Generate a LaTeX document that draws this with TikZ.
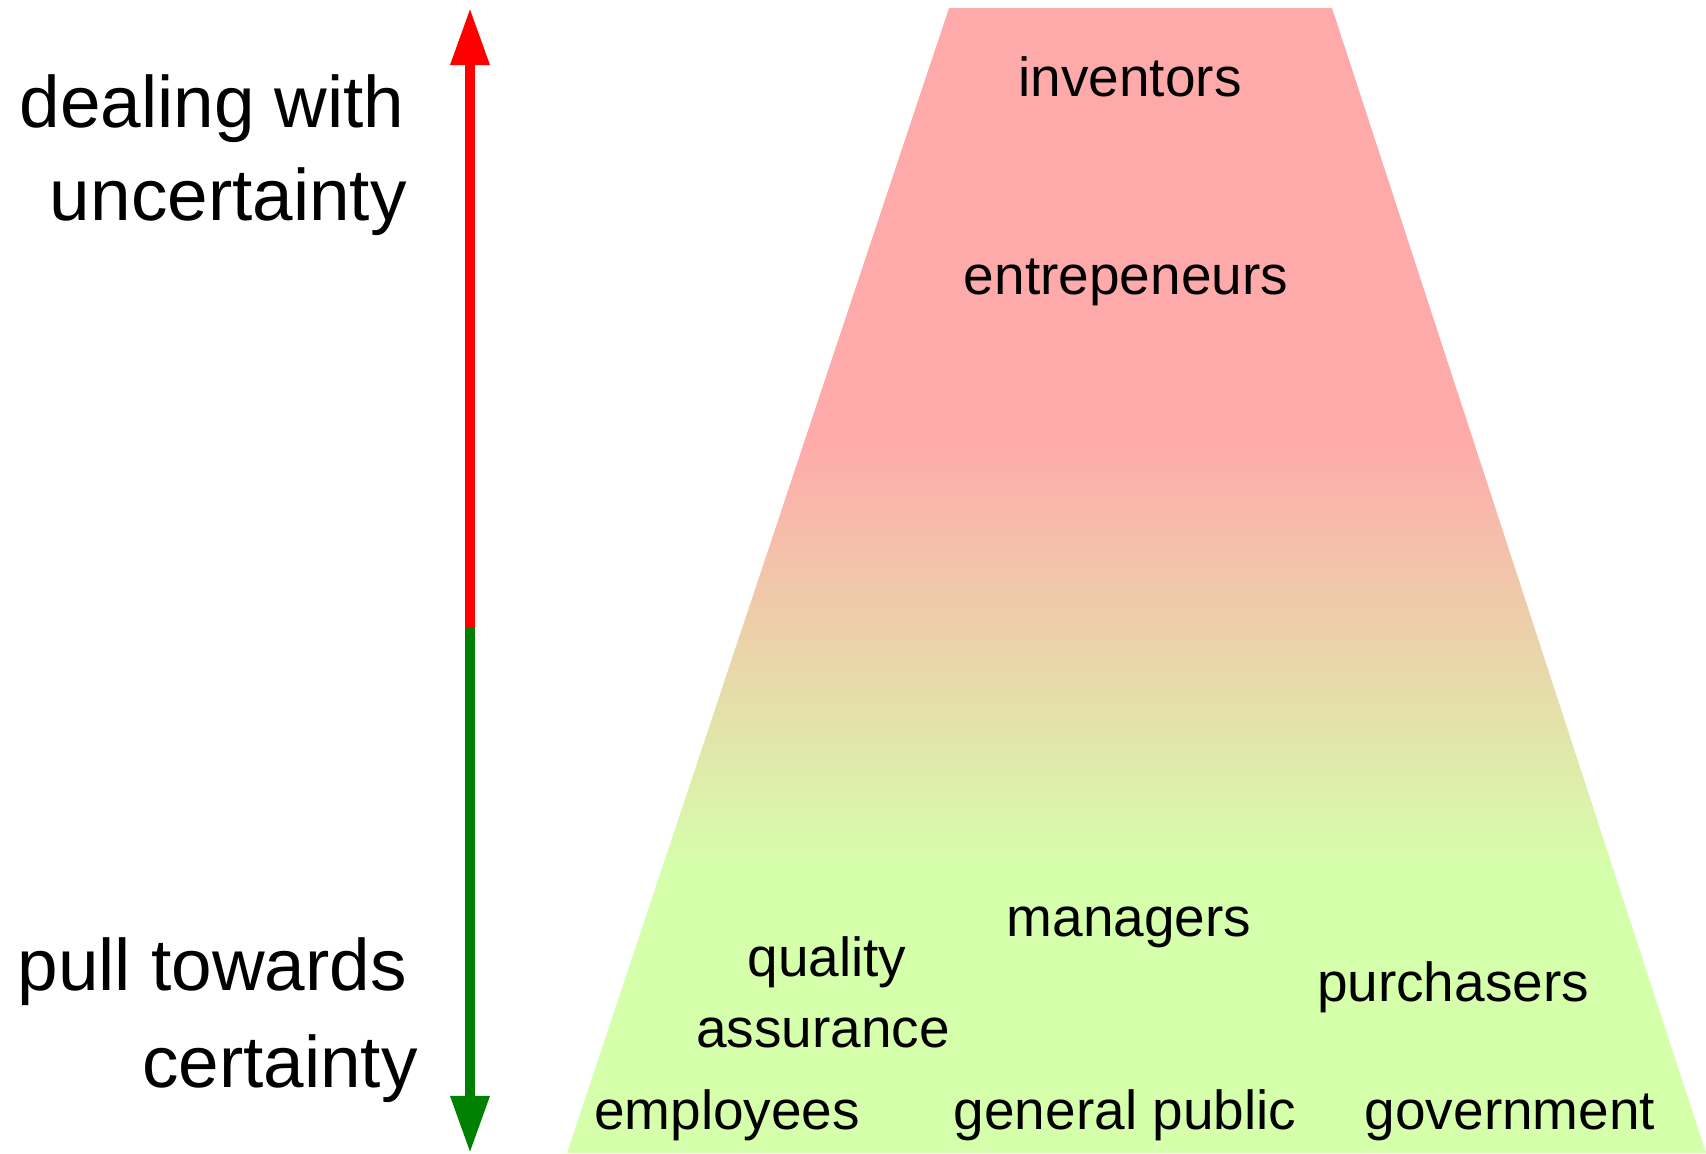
\documentclass[tikz,border=0pt]{standalone}
\usepackage{fontspec}
\setmainfont{Liberation Sans}
\usetikzlibrary{arrows.meta}
\definecolor{pinkband}{HTML}{FFAAAA}
\definecolor{greenband}{HTML}{D5FFAA}
\definecolor{arrowgreen}{HTML}{008000}
\begin{document}
\begin{tikzpicture}[x=0.02cm,y=-0.02cm,
  inlabel/.style={font=\fontsize{31.3pt}{40pt}\selectfont, anchor=base, inner sep=0pt},
  sidelabel/.style={font=\fontsize{41.5pt}{52pt}\selectfont, anchor=base east, inner sep=0pt},
  axisline/.style={line width=5.69pt, -{Triangle[width=21pt,length=32.5pt]}}]
\useasboundingbox (0,0) rectangle (1706,1153);
% trapezoid
\coordinate (TL) at (949,8);
\coordinate (TR) at (1332,8);
\coordinate (BR) at (1706,1153);
\coordinate (BL) at (567,1153);
\begin{scope}
  \clip (TL) -- (TR) -- (BR) -- (BL) -- cycle;
  \fill[pinkband] (500,0) rectangle (1720,440);
  \shade[top color=pinkband,bottom color=greenband] (500,438) rectangle (1720,870);
  \fill[greenband] (500,868) rectangle (1720,1160);
\end{scope}
% axis arrow
\coordinate (atop) at (470,8);
\coordinate (amid) at (470,628);
\coordinate (abot) at (470,1153);
\draw[axisline, red] (amid) -- (atop);
\draw[axisline, arrowgreen] (amid) -- (abot);
% side labels
\node[sidelabel] (d1) at (405,127) {dealing with};
\node[sidelabel] (d2) at (407,220) {uncertainty};
\node[sidelabel] (p1) at (407,990) {pull towards};
\node[sidelabel] (p2) at (418,1087) {certainty};
% inner labels
\node[inlabel] (inv) at (1130,96) {inventors};
\node[inlabel] (ent) at (1126,294) {entrepeneurs};
\node[inlabel] (man) at (1129,936) {managers};
\node[inlabel] (qa1) at (827,976) {quality};
\node[inlabel] (qa2) at (823,1047) {assurance};
\node[inlabel] (pur) at (1453,1001) {purchasers};
\node[inlabel] (emp) at (727,1129) {employees};
\node[inlabel] (gen) at (1125,1129) {general public};
\node[inlabel] (gov) at (1510,1129) {government};
\end{tikzpicture}
\end{document}
